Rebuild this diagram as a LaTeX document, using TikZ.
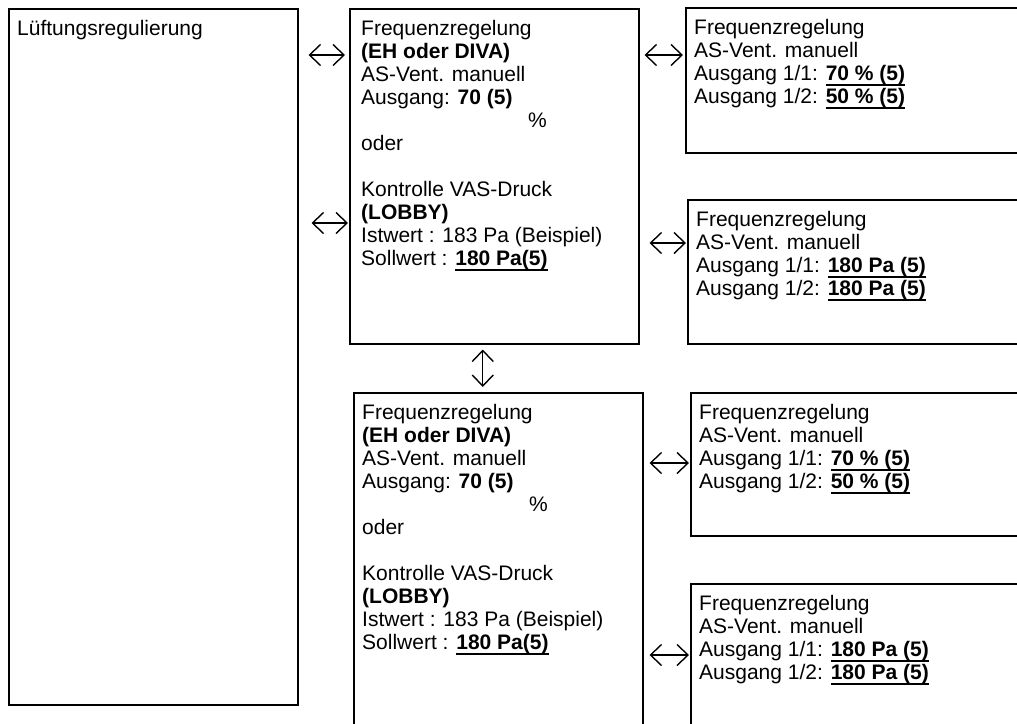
\documentclass[tikz,border=0pt]{standalone}
\usepackage{fontspec}
\setmainfont{Liberation Sans}
\usetikzlibrary{positioning,arrows.meta}

% unterstrichener Wert
\newcommand\wert[1]{\setbox0\hbox{\textbf{#1}}\rlap{\rule[-5.5pt]{\wd0}{1.6pt}}\box0}

\begin{document}
\begin{tikzpicture}[x=1pt,y=-1pt,
    kasten/.style={rectangle,draw,line width=1.5pt,anchor=north west,inner sep=0pt},
    inhalt/.style={anchor=north west,align=left,inner xsep=9pt,inner ysep=11pt,font=\fontsize{21}{23}\selectfont},
    pfeil/.style={line width=1.4pt,>={Straight Barb[length=11pt,width=21pt]},<->}]

\useasboundingbox (0,0) rectangle (1017,723);

% Kaesten
\node[kasten,minimum width=289pt,minimum height=696pt] (lr) at (8,8) {};
\node[kasten,minimum width=289pt,minimum height=335pt] (f1) at (349,8) {};
\node[kasten,minimum width=289pt,minimum height=345pt] (f2) at (353,392) {};
\node[kasten,minimum width=345pt,minimum height=145pt] (r1) at (685,7) {};
\node[kasten,minimum width=345pt,minimum height=144pt] (r2) at (687,199) {};
\node[kasten,minimum width=345pt,minimum height=143pt] (r3) at (690,392) {};
\node[kasten,minimum width=345pt,minimum height=150pt] (r4) at (690,583) {};

% Texte
\node[inhalt] (lrt) at (lr.north west) {\strut L\"uftungsregulierung};

\node[inhalt,xshift=3pt] (f1t) at (f1.north west) {\strut Frequenzregelung\\
\textbf{(EH oder DIVA)}\\
AS-Vent. manuell\\
Ausgang: \textbf{70 (5)}\\
\hspace*{167pt}\%\\
oder\\[23pt]
Kontrolle VAS-Druck\\
\textbf{(LOBBY)}\\
Istwert : 183 Pa (Beispiel)\\
Sollwert : \wert{180 Pa(5)}};

\node[inhalt] (f2t) at (f2.north west) {\strut Frequenzregelung\\
\textbf{(EH oder DIVA)}\\
AS-Vent. manuell\\
Ausgang: \textbf{70 (5)}\\
\hspace*{167pt}\%\\
oder\\[23pt]
Kontrolle VAS-Druck\\
\textbf{(LOBBY)}\\
Istwert : 183 Pa (Beispiel)\\
Sollwert : \wert{180 Pa(5)}};

\node[inhalt] (r1t) at (r1.north west) {\strut Frequenzregelung\\
AS-Vent. manuell\\
Ausgang 1/1: \wert{70 \% (5)}\\
Ausgang 1/2: \wert{50 \% (5)}};

\node[inhalt] (r2t) at (r2.north west) {\strut Frequenzregelung\\
AS-Vent. manuell\\
Ausgang 1/1: \wert{180 Pa (5)}\\
Ausgang 1/2: \wert{180 Pa (5)}};

\node[inhalt] (r3t) at (r3.north west) {\strut Frequenzregelung\\
AS-Vent. manuell\\
Ausgang 1/1: \wert{70 \% (5)}\\
Ausgang 1/2: \wert{50 \% (5)}};

\node[inhalt] (r4t) at (r4.north west) {\strut Frequenzregelung\\
AS-Vent. manuell\\
Ausgang 1/1: \wert{180 Pa (5)}\\
Ausgang 1/2: \wert{180 Pa (5)}};

% Pfeile
\draw[pfeil,shorten <=10pt,shorten >=4pt] ([yshift=-47pt]lr.north east) -- ([yshift=-47pt]lr.north east -| f1.west);
\draw[pfeil,shorten <=13pt,shorten >=1pt] ([yshift=-215pt]lr.north east) -- ([yshift=-215pt]lr.north east -| f1.west);
\draw[pfeil,shorten <=5pt,shorten >=2pt] ([yshift=-47pt]f1.north east) -- ([yshift=-47pt]f1.north east -| r1.west);
\draw[pfeil,shorten <=10pt,shorten >=1pt] ([yshift=-235pt]f1.north east) -- ([yshift=-235pt]f1.north east -| r2.west);
\draw[pfeil,shorten <=6pt,shorten >=1pt] ([yshift=-71pt]f2.north east) -- ([yshift=-71pt]f2.north east -| r3.west);
\draw[pfeil,shorten <=6pt,shorten >=1pt] ([yshift=-263pt]f2.north east) -- ([yshift=-263pt]f2.north east -| r4.west);
\draw[pfeil,shorten <=5pt,shorten >=5pt] ([xshift=-11.5pt]f1.south) -- ([xshift=-11.5pt]f1.south |- f2.north);

\end{tikzpicture}
\end{document}
